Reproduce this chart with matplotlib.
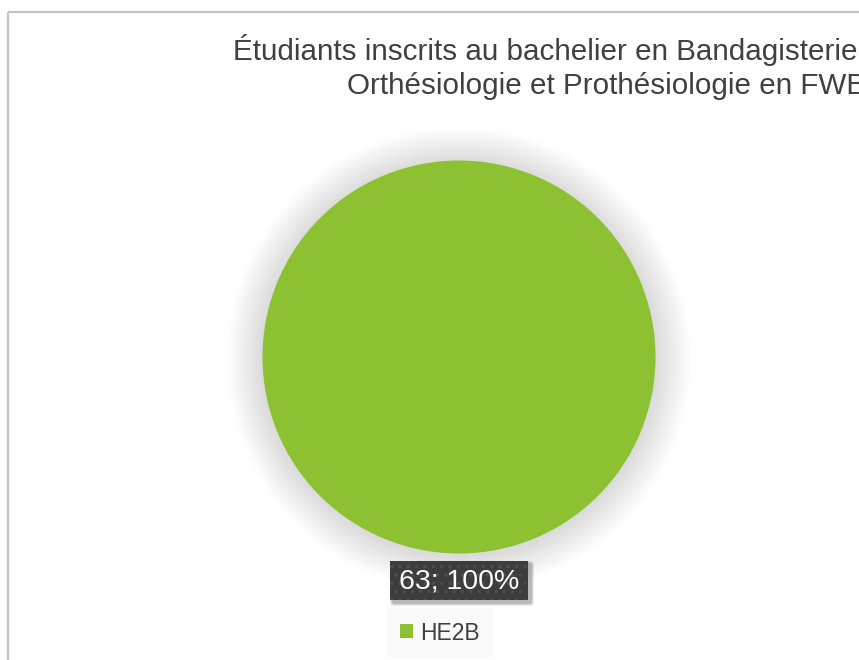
import matplotlib
matplotlib.use("Agg")
import matplotlib.pyplot as plt
from matplotlib.patches import Circle, Rectangle, FancyBboxPatch

plt.rcParams['font.family'] = ['Liberation Sans', 'DejaVu Sans']
plt.rcParams['hatch.linewidth'] = 1.2

# data
labels = ['HE2B']
values = [63]
colors = ['#8CC132']
title1 = "Étudiants inscrits au bachelier en Bandagisterie,"
title2 = "Orthésiologie et Prothésiologie en FWB"

W, H = 859, 660
fig = plt.figure(figsize=(W / 100, H / 100), dpi=100)
ax = fig.add_axes([0, 0, 1, 1])
ax.set_xlim(0, W)
ax.set_ylim(H, 0)
ax.set_aspect('equal')
ax.axis('off')

# chart frame
ax.add_patch(Rectangle((8, 12), W + 20, H + 20, fill=False,
                       edgecolor='#C4C4C4', lw=1.6, zorder=0))

cx, cy, r = 459, 357, 196.5

# soft glow behind pie
for k in range(36, 0, -1):
    ax.add_patch(Circle((cx, cy + 2), r + k, facecolor='#000000',
                        edgecolor='none', alpha=0.0045, zorder=1))

wedges, _ = ax.pie(values, colors=colors, center=(cx, cy), radius=r,
                   startangle=90, counterclock=False,
                   wedgeprops=dict(linewidth=0, zorder=2))
ax.set_xlim(0, W)
ax.set_ylim(H, 0)

# titles
ax.text(233, 50, title1, fontsize=21.3, color='#404040', ha='left', va='center')
ax.text(347, 86, title2, fontsize=21.3, color='#404040', ha='left', va='center')

# data label
total = sum(values)
lab = f"{values[0]}; {round(values[0] / total * 100)}%"
ly = cy + r + 27
bw, bh = 138, 39
for k in range(6, 0, -1):
    ax.add_patch(FancyBboxPatch((cx - bw / 2 + 3 - k / 2, ly - bh / 2 + 3 - k / 2),
                                bw + k, bh + k, boxstyle='round,pad=0,rounding_size=3',
                                facecolor='#000000', edgecolor='none',
                                alpha=0.05, zorder=3))
ax.add_patch(Rectangle((cx - bw / 2, ly - bh / 2), bw, bh, facecolor='#3D3D3D',
                       edgecolor='#4E4E4E', hatch='..', lw=0, zorder=4))
ax.text(cx, ly + 1, lab, fontsize=20.5, color='white', ha='center', va='center',
        zorder=5)

# legend
leg = ax.legend(wedges, labels, loc='center', bbox_to_anchor=(440 / W, 1 - 633 / H),
                frameon=True, fontsize=16.5, handlelength=0.55, handleheight=0.55,
                handletextpad=0.3, borderpad=0.6, labelcolor='#404040')
leg.get_frame().set_facecolor('#F9F9F9')
leg.get_frame().set_edgecolor('none')
leg.get_frame().set_boxstyle('square', pad=0)

fig.savefig('out.png', dpi=100)
